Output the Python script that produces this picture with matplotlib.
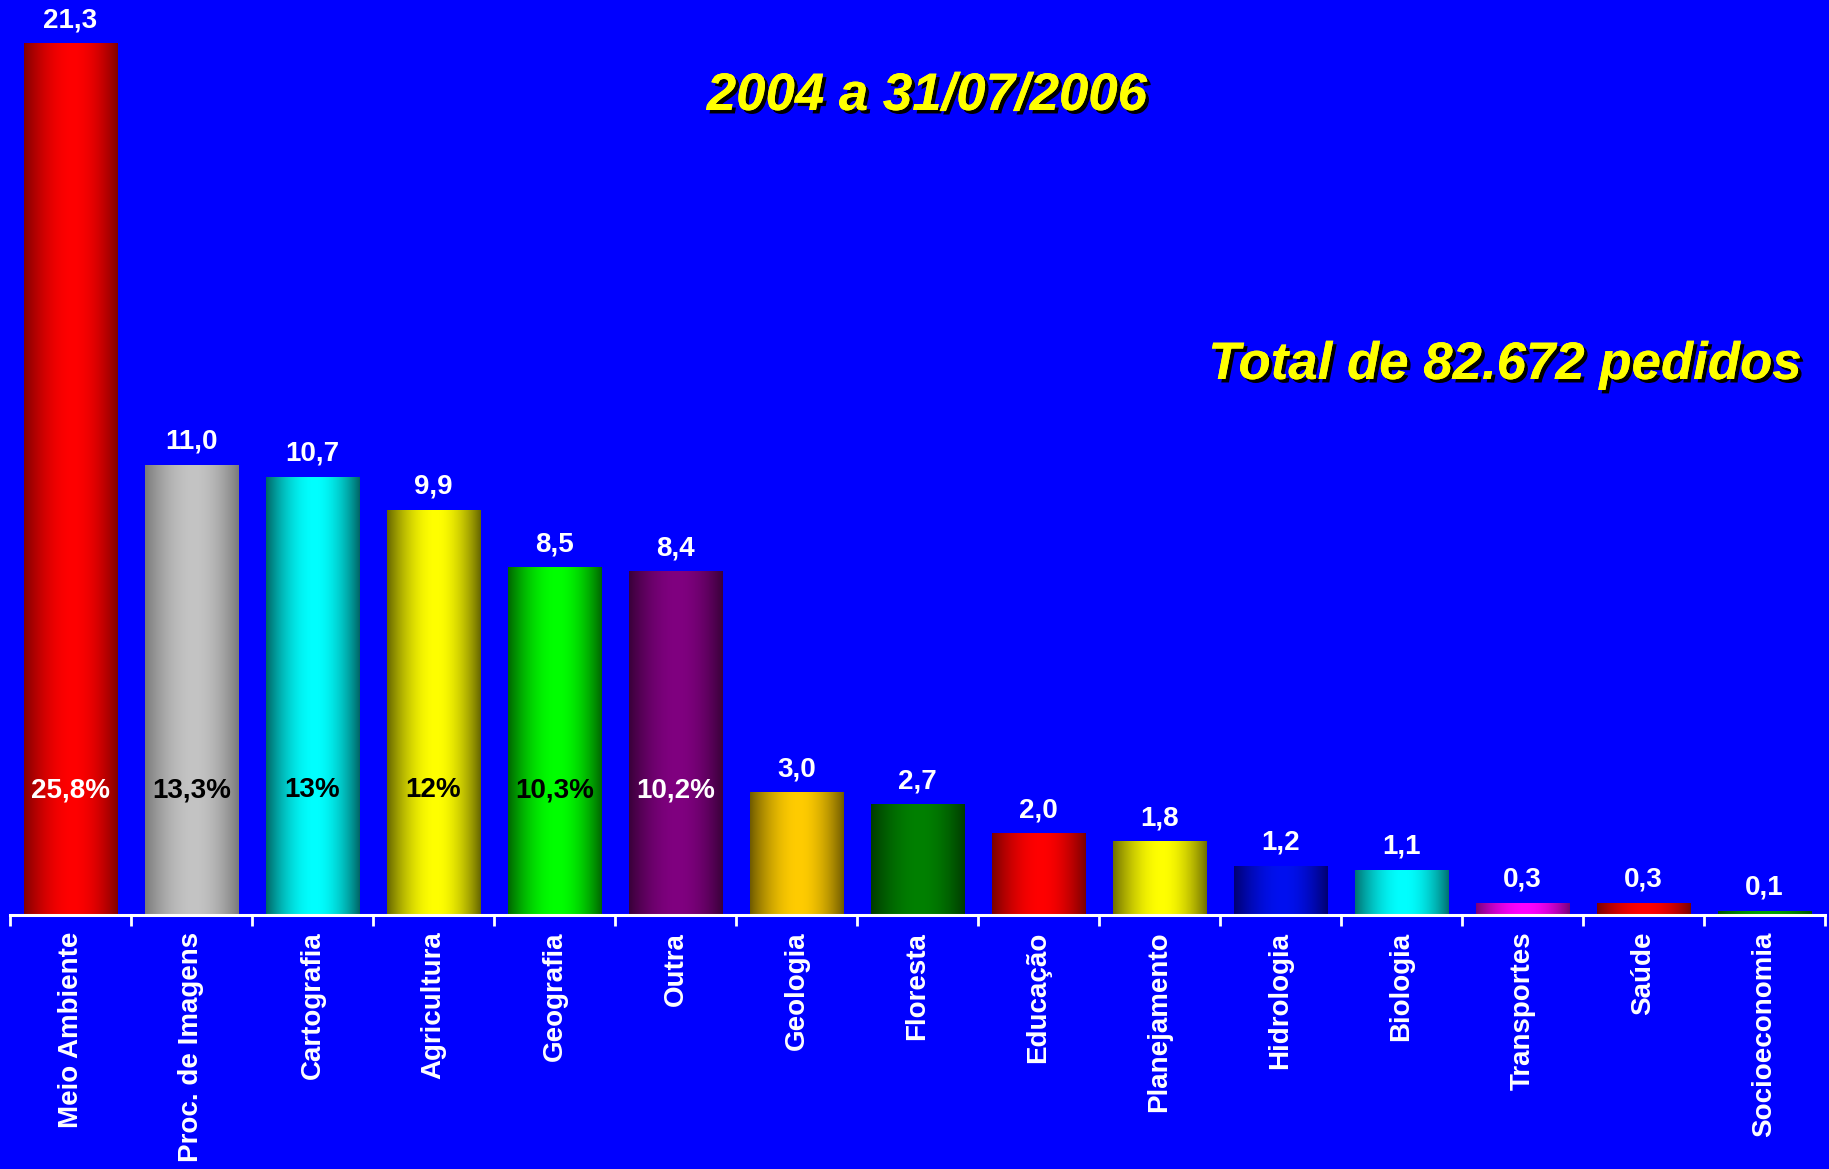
import numpy as np
import matplotlib
matplotlib.use("Agg")
import matplotlib.pyplot as plt
import matplotlib.patheffects as pe
from matplotlib.colors import to_rgb

# Dados do gráfico
categorias = ["Meio Ambiente", "Proc. de Imagens", "Cartografia", "Agricultura", "Geografia",
              "Outra", "Geologia", "Floresta", "Educação", "Planejamento", "Hidrologia",
              "Biologia", "Transportes", "Saúde", "Socioeconomia"]
valores = [21.3, 11.0, 10.7, 9.9, 8.5, 8.4, 3.0, 2.7, 2.0, 1.8, 1.2, 1.1, 0.3, 0.3, 0.1]
rotulos_valor = ["21,3", "11,0", "10,7", "9,9", "8,5", "8,4", "3,0", "2,7", "2,0", "1,8",
                 "1,2", "1,1", "0,3", "0,3", "0,1"]
percentuais = ["25,8%", "13,3%", "13%", "12%", "10,3%", "10,2%"]
cor_percentual = ["white", "black", "black", "black", "black", "white"]

# cor da borda (escura) e do centro (clara) de cada barra
cor_borda = ["#800000", "#7a7a7a", "#006464", "#646400", "#006400", "#380038", "#6e5a00",
             "#003a00", "#780000", "#6e6e00", "#000070", "#007070", "#780078", "#780000", "#005000"]
cor_centro = ["#ff0000", "#c4c4c4", "#00ffff", "#ffff00", "#00ff00", "#800080", "#ffcc00",
              "#008000", "#ff0000", "#ffff00", "#0010f0", "#00ffff", "#ff00ff", "#ff0000", "#00a000"]

titulo = "2004 a 31/07/2006"
total = "Total de 82.672 pedidos"

AZUL = "#0000ff"
plt.rcParams['font.family'] = ['Liberation Sans', 'DejaVu Sans']

fig = plt.figure(figsize=(18.29, 11.69), dpi=100, facecolor=AZUL)
ax = fig.add_axes([10/1829, 254/1169, 1815/1829, 915/1169])
ax.set_facecolor(AZUL)

x = np.arange(len(categorias))
barras = ax.bar(x, valores, width=0.77, color="none", edgecolor="none")

# preenchimento em degradê horizontal (efeito cilindro)
t = np.linspace(0, 1, 200)
pico = 0.52
tt = np.where(t < pico, t / pico * 0.5, 0.5 + (t - pico) / (1 - pico) * 0.5)
perfil = np.sin(np.pi * tt) ** 0.9
for i, b in enumerate(barras):
    c0 = np.array(to_rgb(cor_borda[i]))
    c1 = np.array(to_rgb(cor_centro[i]))
    img = c0[None, :] + (c1 - c0)[None, :] * perfil[:, None]
    img = img[None, :, :]
    x0, y0 = b.get_x(), b.get_y()
    w, h = b.get_width(), b.get_height()
    im = ax.imshow(img, extent=[x0, x0 + w, y0, y0 + h], aspect="auto",
                   interpolation="bilinear", zorder=2)
    im.set_clip_path(b)

ax.set_xlim(-0.5, len(categorias) - 0.5)
ax.set_ylim(0, 915 / 40.94)

# rótulos de valor
for i, v in enumerate(valores):
    ax.annotate(rotulos_valor[i], (x[i], v), xytext=(0, 11.5), textcoords="offset points",
                ha="center", va="baseline", color="white", fontsize=20, fontweight="bold")

# percentuais dentro das barras
for i, p in enumerate(percentuais):
    ax.text(x[i], 3.05, p, ha="center", va="center", color=cor_percentual[i],
            fontsize=20, fontweight="bold", zorder=3)

# eixos
for s in ["top", "left", "right"]:
    ax.spines[s].set_visible(False)
ax.spines["bottom"].set_color("white")
ax.spines["bottom"].set_linewidth(2.2)
ax.set_yticks([])
ax.set_xticks(np.arange(len(categorias) + 1) - 0.5)
ax.set_xticklabels([])
ax.tick_params(axis="x", which="major", direction="out", length=8, width=2, colors="white")
ax.set_xticks(x, categorias, minor=True)
ax.tick_params(axis="x", which="minor", length=0, pad=12, labelsize=20, labelcolor="white")
for lbl in ax.get_xticklabels(minor=True):
    lbl.set_rotation(90)
    lbl.set_fontweight("bold")
    lbl.set_va("top")

sombra = [pe.withSimplePatchShadow(offset=(2.5, -2.5), shadow_rgbFace="black", alpha=1.0), pe.Normal()]
fig.text(927/1829, 1 - 96/1169, titulo, ha="center", va="center", color="yellow",
         fontsize=38, fontweight="bold", style="italic", path_effects=sombra)
fig.text(1505/1829, 1 - 365/1169, total, ha="center", va="center", color="yellow",
         fontsize=38, fontweight="bold", style="italic", path_effects=sombra)

fig.savefig("out.png", dpi=100, facecolor=AZUL)
